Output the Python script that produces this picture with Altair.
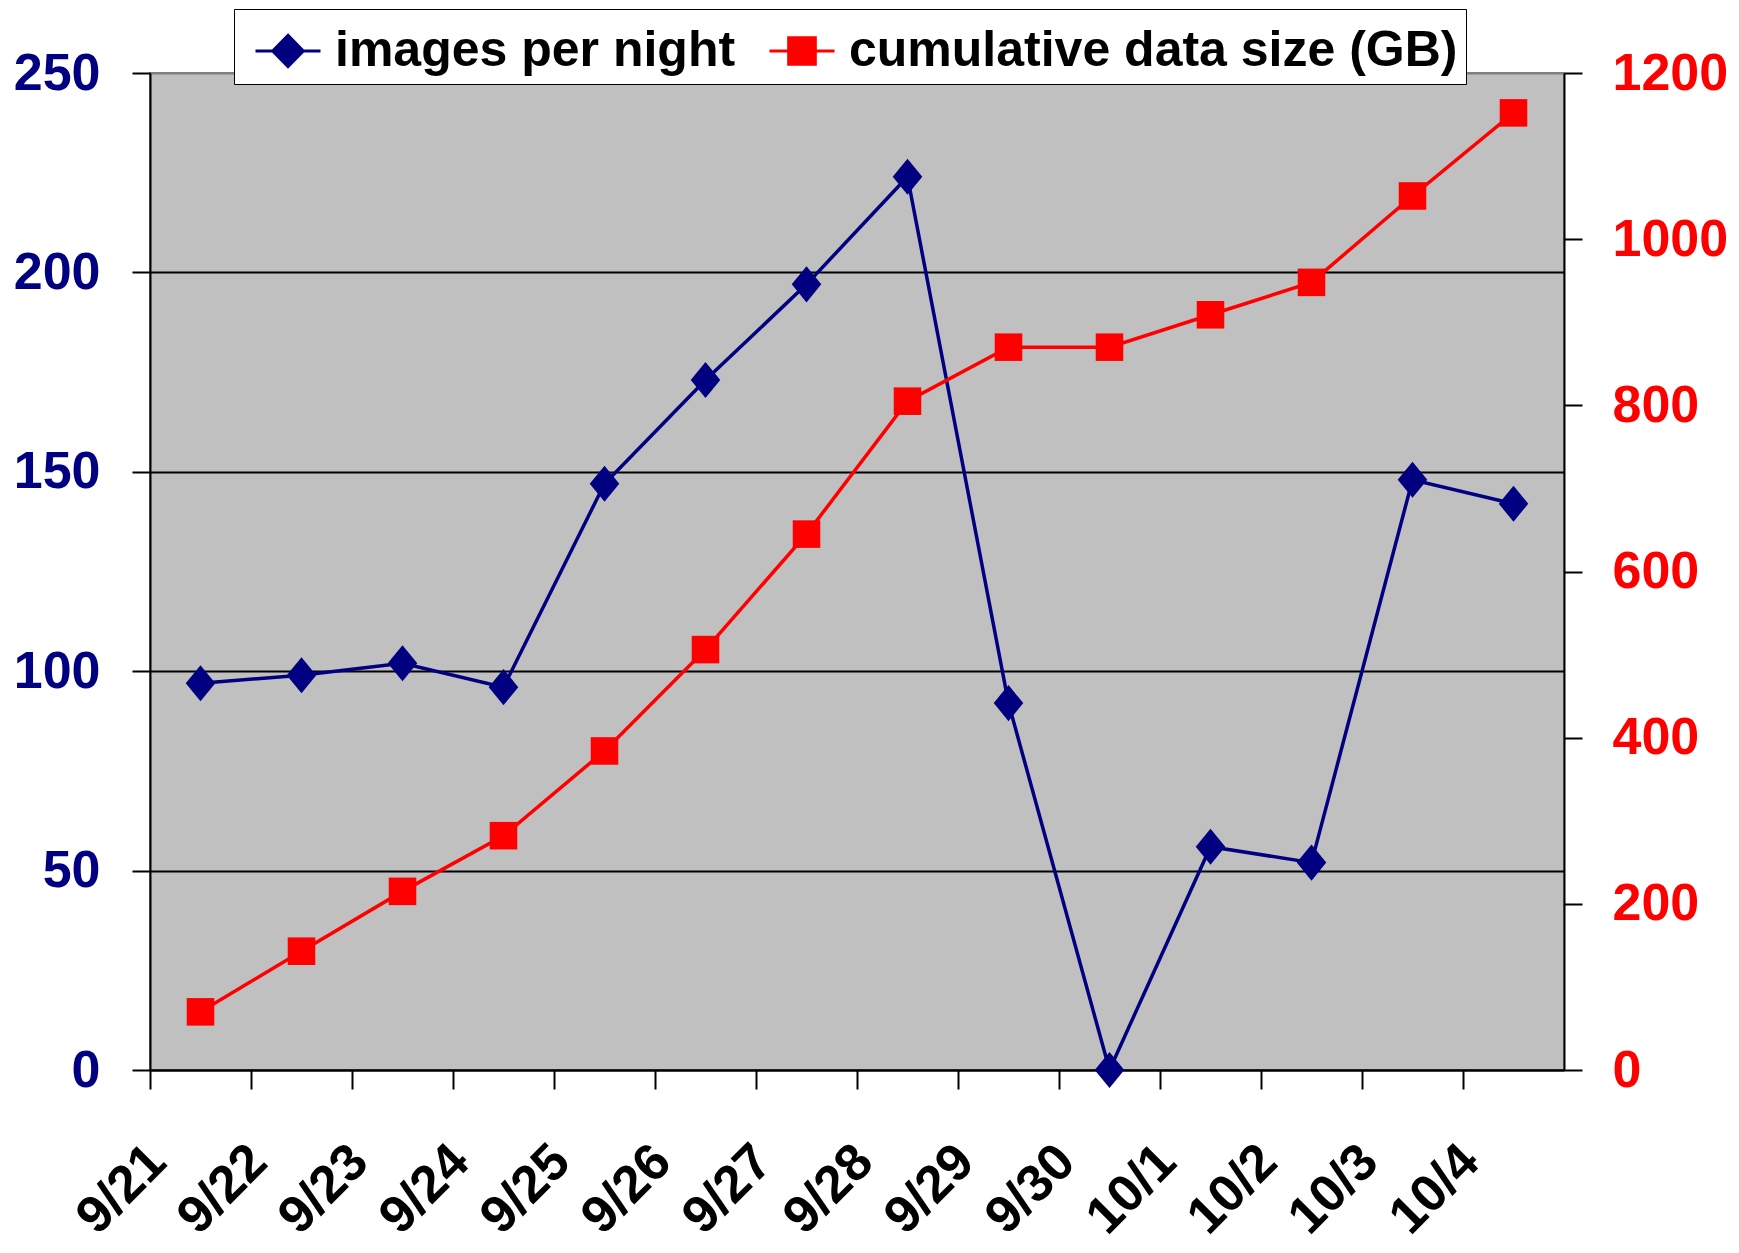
import altair as alt
import pandas as pd

dates = ["9/21", "9/22", "9/23", "9/24", "9/25", "9/26", "9/27",
         "9/28", "9/29", "9/30", "10/1", "10/2", "10/3", "10/4"]
images_per_night = [97, 99, 102, 96, 147, 173, 197, 224, 92, 0, 56, 52, 148, 142]
cumulative_gb = [70, 143, 215, 282, 384, 506, 645, 805, 870, 870, 909, 948, 1052, 1152]
series_names = ["images per night", "cumulative data size (GB)"]
series_colors = ["#000080", "#FF0000"]
left_ticks = [0, 50, 100, 150, 200, 250]
right_ticks = [0, 200, 400, 600, 800, 1000, 1200]

FONT = "Liberation Sans"
NAVY = series_colors[0]
RED = series_colors[1]

diamond_path = "M0,-1L0.82,0L0,1L-0.82,0Z"
legend_paths = [
    "M-1,0L1,0M0,-0.48L0.47,0L0,0.48L-0.47,0Z",
    "M-1,0L1,0M-0.41,-0.41L0.41,-0.41L0.41,0.41L-0.41,0.41Z",
]

df_img = pd.DataFrame({"date": dates, "value": images_per_night})
df_gb = pd.DataFrame({"date": dates, "value": cumulative_gb})
df_leg = pd.DataFrame({"series": series_names, "date": [dates[0]] * len(series_names)})

xenc = alt.X(
    "date:N", sort=dates, bandPosition=0.5,
    scale=alt.Scale(type="band", domain=dates, paddingInner=0, paddingOuter=0),
    axis=alt.Axis(title=None, bandPosition=0, labelAngle=-45, labelAlign="right",
                  labelBaseline="middle", labelFont=FONT, labelFontSize=52,
                  labelFontWeight="bold", labelColor="black", labelOffset=-43,
                  labelPadding=64, tickSize=19, tickWidth=2, tickColor="black",
                  domainColor="black", domainWidth=2, grid=False, labelOverlap=False),
)

yL = alt.Y(
    "value:Q",
    scale=alt.Scale(domain=[0, 250], nice=False),
    axis=alt.Axis(orient="left", values=left_ticks, title=None, labelFont=FONT,
                  labelFontSize=52, labelFontWeight="bold", labelColor=NAVY,
                  tickSize=18, tickWidth=2, tickColor="black", domainColor="black",
                  domainWidth=2, labelPadding=32, grid=True, format="d",
                  gridColor={"condition": {"test": "datum.value >= 250", "value": "#808080"},
                             "value": "black"},
                  gridWidth=2),
)

yR = alt.Y(
    "value:Q",
    scale=alt.Scale(domain=[0, 1200], nice=False),
    axis=alt.Axis(orient="right", values=right_ticks, title=None, labelFont=FONT,
                  labelFontSize=52, labelFontWeight="bold", labelColor=RED, format="d",
                  tickSize=18, tickWidth=2, tickColor="black", domainColor="black",
                  domainWidth=2, labelPadding=30, grid=False),
)

blue_line = alt.Chart(df_img).mark_line(color=NAVY, strokeWidth=3.5).encode(x=xenc, y=yL)
blue_pts = alt.Chart(df_img).mark_point(shape=diamond_path, filled=True, size=1300,
                                         color=NAVY, opacity=1).encode(x=xenc, y=yL)
red_line = alt.Chart(df_gb).mark_line(color=RED, strokeWidth=3.5).encode(x=xenc, y=yR)
red_pts = alt.Chart(df_gb).mark_point(shape="square", filled=True, size=760,
                                       color=RED, opacity=1).encode(x=xenc, y=yR)

leg_props = dict(
    title=None, orient="none", legendX=84, legendY=-64, direction="horizontal",
    fillColor="white", strokeColor="black", padding=8, labelFont=FONT,
    labelFontSize=50, labelFontWeight="bold", labelColor="black", labelLimit=2000,
    labelOffset=13, symbolSize=4225, symbolStrokeWidth=3, symbolOffset=12,
    columnPadding=20, symbolFillColor=NAVY, symbolStrokeColor=NAVY,
)

leg = alt.Chart(df_leg).mark_point(filled=True, size=4225, strokeWidth=3).encode(
    x=xenc,
    fill=alt.Fill("series:N", scale=alt.Scale(domain=series_names, range=series_colors),
                  legend=alt.Legend(**leg_props)),
    stroke=alt.Stroke("series:N", scale=alt.Scale(domain=series_names, range=series_colors),
                      legend=alt.Legend(**leg_props)),
    shape=alt.Shape("series:N", scale=alt.Scale(domain=series_names, range=legend_paths),
                    legend=alt.Legend(**leg_props)),
    opacity=alt.value(0),
)

chart = (
    alt.layer(alt.layer(blue_line, blue_pts), alt.layer(red_line, red_pts), leg)
    .resolve_scale(y="independent")
    .properties(width=1414, height=997,
                padding={"left": 5, "top": 0, "right": 0, "bottom": 5},
                background="white")
    .configure_view(fill="#C0C0C0", stroke="#808080", strokeWidth=2)
)

chart.save("out.html", embed_options={"renderer": "svg", "actions": False})
